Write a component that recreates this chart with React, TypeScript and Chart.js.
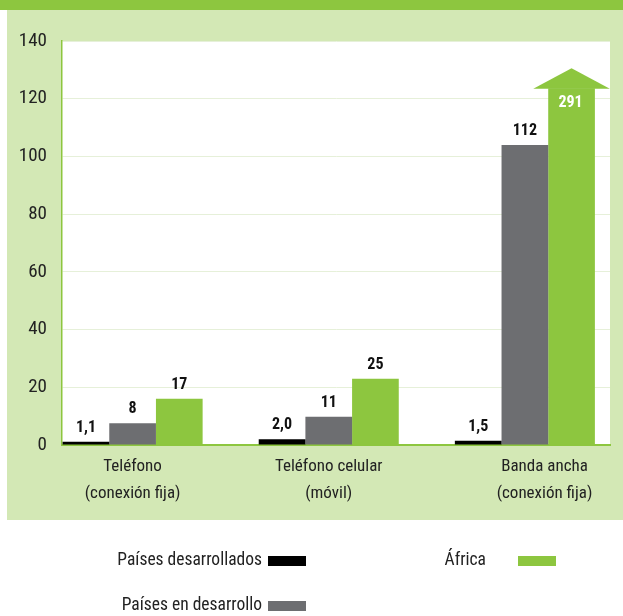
import React, { useEffect, useRef } from "react";
import { Chart, registerables } from "chart.js";

Chart.register(...registerables);

// ---------- data ----------
const categories: string[][] = [
  ["Teléfono", "(conexión fija)"],
  ["Teléfono celular", "(móvil)"],
  ["Banda ancha", "(conexión fija)"],
];
const seriesNames = ["Países desarrollados", "Países en desarrollo", "África"];
// bar heights as drawn in the picture
const developedValues = [1.1, 2.0, 1.5];
const developingValues = [7.5, 9.8, 104];
const africaValues = [16, 23, 123.6]; // last bar is cut off by an arrow (real value 291)
// printed value labels
const developedLabels = ["1,1", "2,0", "1,5"];
const developingLabels = ["8", "11", "112"];
const africaLabels = ["17", "25", "291"];
const yTickValues = [0, 20, 40, 60, 80, 100, 120, 140];
const arrowTipValue = 130.6;
const cappedIndex = 2;

const COLORS = ["#000000", "#6d6e71", "#8dc63f"];
const FONT = "'Roboto Condensed', 'Open Sans Condensed', 'DejaVu Sans Condensed', sans-serif";

const backdropPlugin = {
  id: "backdrop",
  beforeDraw(chart: any) {
    const { ctx, chartArea: a, width, height } = chart;
    ctx.save();
    ctx.fillStyle = "#ffffff";
    ctx.fillRect(0, 0, width, height);
    ctx.fillStyle = "#d3e8b5";
    ctx.fillRect(7, 10, width - 7, 510);
    ctx.fillStyle = "#8dc63f";
    ctx.fillRect(0, 0, width, 10);
    ctx.fillStyle = "#ffffff";
    ctx.fillRect(a.left, a.top, a.right - a.left, a.bottom - a.top);
    ctx.restore();
  },
};

const valueLabelPlugin = {
  id: "valueLabels",
  afterDatasetsDraw(chart: any) {
    const ctx = chart.ctx;
    const labelSets = [developedLabels, developingLabels, africaLabels];
    ctx.save();
    ctx.font = `bold 16px ${FONT}`;
    ctx.textAlign = "center";
    chart.data.datasets.forEach((_ds: any, di: number) => {
      const meta = chart.getDatasetMeta(di);
      meta.data.forEach((bar: any, i: number) => {
        const { x, y, width } = bar.getProps(["x", "y", "width"], true);
        const label = labelSets[di][i];
        if (di === 2 && i === cappedIndex) {
          const tipY = chart.scales.y.getPixelForValue(arrowTipValue);
          const half = width * 0.82;
          ctx.fillStyle = COLORS[2];
          ctx.beginPath();
          ctx.moveTo(x - half, y + 0.5);
          ctx.lineTo(x + half, y + 0.5);
          ctx.lineTo(x, tipY);
          ctx.closePath();
          ctx.fill();
          ctx.fillStyle = "#ffffff";
          ctx.textBaseline = "middle";
          ctx.fillText(label, x - 1, y + 15);
        } else {
          ctx.fillStyle = "#111111";
          ctx.textBaseline = "alphabetic";
          ctx.fillText(label, x, y - 10);
        }
      });
    });
    ctx.restore();
  },
};

const legendPlugin = {
  id: "customLegend",
  afterDraw(chart: any) {
    const ctx = chart.ctx;
    const items = [
      { name: seriesNames[0], color: COLORS[0], x: 262, y: 561 },
      { name: seriesNames[1], color: COLORS[1], x: 262, y: 606 },
      { name: seriesNames[2], color: COLORS[2], x: 486, y: 561 },
    ];
    const boxGap = [6, 6, 32];
    ctx.save();
    ctx.font = `17.5px ${FONT}`;
    ctx.textAlign = "right";
    ctx.textBaseline = "middle";
    items.forEach((it, k) => {
      ctx.fillStyle = "#222222";
      ctx.fillText(it.name, it.x, it.y);
      ctx.fillStyle = it.color;
      ctx.fillRect(it.x + boxGap[k], it.y - 5, 38, 10);
    });
    ctx.restore();
  },
};

export default function App() {
  const ref = useRef<HTMLCanvasElement | null>(null);
  useEffect(() => {
    document.body.style.margin = "0";
    if (!ref.current) return;
    const mk = (vals: number[]) => vals.map((v, i) => ({ x: i, y: v }));
    const chart = new Chart(ref.current, {
      type: "bar",
      data: {
        datasets: [
          { label: seriesNames[0], data: mk(developedValues) as any, backgroundColor: COLORS[0] },
          { label: seriesNames[1], data: mk(developingValues) as any, backgroundColor: COLORS[1] },
          { label: seriesNames[2], data: mk(africaValues) as any, backgroundColor: COLORS[2] },
        ],
      },
      options: {
        responsive: false,
        animation: false,
        events: [],
        layout: { padding: { top: 41, right: 13, left: 0, bottom: 91 } },
        datasets: { bar: { categoryPercentage: 0.714, barPercentage: 1.0 } },
        plugins: { legend: { display: false }, tooltip: { enabled: false } },
        scales: {
          x: {
            type: "linear",
            min: -0.36,
            max: 2.434,
            offset: false,
            grid: { display: false, drawTicks: false },
            border: { display: true, color: "#8dc63f", width: 2 },
            afterBuildTicks: (scale: any) => {
              scale.ticks = [0, 1, 2].map((v) => ({ value: v === 2 ? v + 0.1 : v }));
            },
            afterFit: (scale: any) => {
              scale.height = 80;
            },
            ticks: {
              autoSkip: false,
              maxRotation: 0,
              padding: 8,
              color: "#222222",
              font: { family: FONT, size: 17, lineHeight: 1.6 },
              callback: (_v: any, index: number) => categories[index],
            },
          },
          y: {
            min: 0,
            max: 140,
            grid: { color: "#e6f0d9", drawTicks: false, lineWidth: 1 },
            border: { display: true, color: "#8dc63f", width: 1.5 },
            afterBuildTicks: (scale: any) => {
              scale.ticks = yTickValues.map((v) => ({ value: v }));
            },
            afterFit: (scale: any) => {
              scale.width = 62;
            },
            ticks: {
              padding: 15,
              color: "#222222",
              font: { family: FONT, size: 19 },
            },
          },
        },
      },
      plugins: [backdropPlugin, valueLabelPlugin, legendPlugin],
    } as any);
    return () => chart.destroy();
  }, []);
  return <canvas ref={ref} width={623} height={616} style={{ display: "block" }} />;
}
